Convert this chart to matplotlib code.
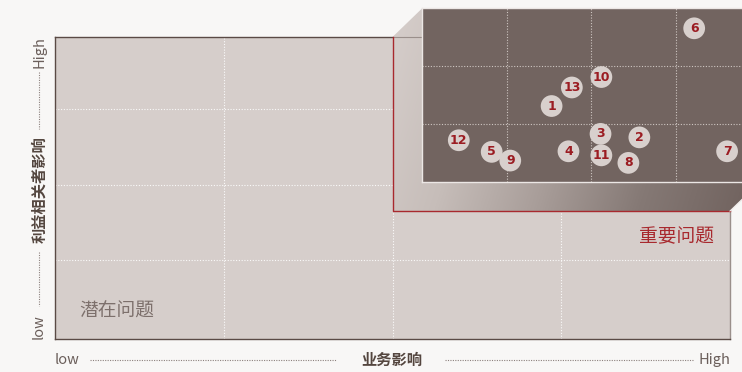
import numpy as np
import matplotlib
matplotlib.use("Agg")
import matplotlib.pyplot as plt
from matplotlib.patches import Polygon
from matplotlib.colors import LinearSegmentedColormap

plt.rcParams['font.family'] = ['Noto Sans CJK SC', 'DejaVu Sans']

# ---- data -------------------------------------------------------------
issue_ids = ["1", "2", "3", "4", "5", "6", "7", "8", "9", "10", "11", "12", "13"]
business_impact = [1.53, 2.57, 2.11, 1.73, 0.82, 3.22, 3.61, 2.44, 1.04, 2.12, 2.12, 0.43, 1.77]
stakeholder_impact = [1.31, 0.77, 0.83, 0.53, 0.52, 2.65, 0.53, 0.33, 0.37, 1.81, 0.46, 0.72, 1.63]

x_axis_title = "业务影响"
y_axis_title = "利益相关者影响"
low_label, high_label = "low", "High"
quadrant_low = "潜在问题"
quadrant_high = "重要问题"

# ---- style ------------------------------------------------------------
FIG_BG = "#f8f7f6"
PLOT_BG = "#d6cecb"
DARK_BG = "#726460"
RED = "#a8292e"
NUM_RED = "#9b1c22"
AXIS_TXT = "#6b5f5b"

W, H = 742, 372
fig = plt.figure(figsize=(W / 100, H / 100), dpi=100, facecolor=FIG_BG)


def px_rect(x0, y0, x1, y1):
    """figure-fraction rect from pixel box (origin top-left)"""
    return [x0 / W, (H - y1) / H, (x1 - x0) / W, (y1 - y0) / H]


# ---- main matrix ------------------------------------------------------
ax = fig.add_axes(px_rect(55, 37, 730, 339))
ax.set_facecolor(PLOT_BG)
ax.set_xlim(0, 4)
ax.set_ylim(0, 4)
ax.set_xticks([1, 2, 3])
ax.set_yticks([1.04, 2.04, 3.04])
ax.tick_params(length=0, labelbottom=False, labelleft=False)
ax.grid(True, color="white", linestyle=(0, (1, 1.5)), linewidth=0.8, alpha=0.9)
for s in ax.spines.values():
    s.set_color("#5a4a45")
    s.set_linewidth(1.0)
ax.spines["right"].set_color("#9a8f8b")

ax.text(24 / 675, 0.093, quadrant_low, transform=ax.transAxes, fontsize=13.5,
        color="#7d706c", ha="left", va="center")
ax.text(659 / 675, 0.338, quadrant_high, transform=ax.transAxes, fontsize=13.5,
        color=RED, ha="right", va="center")

# highlighted region of the matrix (data coords)
hx0, hx1, hy0, hy1 = 2.0, 4.0, 1.695, 4.0

# ---- overlay in pixel space -------------------------------------------
ov = fig.add_axes([0, 0, 1, 1], zorder=1)
ov.set_xlim(0, W)
ov.set_ylim(H, 0)
ov.axis("off")
ov.patch.set_alpha(0)

fig.canvas.draw()
to_px = lambda x, y: (lambda p: (p[0], H - p[1]))(ax.transData.transform((x, y)))
rx0, ry1 = to_px(hx0, hy0)   # bottom-left (pixels)
rx1, ry0 = to_px(hx1, hy1)   # top-right
dx, dy = 30, -29             # extrusion offset of the zoomed panel
ix0, iy0, ix1, iy1 = rx0 + dx, ry0 + dy, rx1 + dx, ry1 + dy

# extruded prism joining highlighted region and zoom panel
prism = Polygon([(rx0, ry1), (rx0, ry0), (ix0, iy0), (ix1, iy0), (ix1, iy1), (rx1, ry1)],
                closed=True, facecolor="none", edgecolor="none")
ov.add_patch(prism)
cmap = LinearSegmentedColormap.from_list("g", ["#d6cecb", "#c6bdb9", "#a89d99", "#857975", DARK_BG])
gx = np.linspace(0, 1, 400)
gy = np.linspace(0, 1, 200)
GX, GY = np.meshgrid(gx, gy)
grad = np.clip(GX * 0.9 + GY * 0.15, 0, 1)
img = ov.imshow(grad, cmap=cmap, extent=(rx0, ix1, ry1, iy0), origin="upper",
                aspect="auto", interpolation="bilinear", zorder=1)
img.set_clip_path(prism)
ov.plot([rx0, ix0], [ry0, ry0], color="#9a8f8b", lw=0.8, zorder=2)
ov.plot([rx0, rx0, rx1], [ry0, ry1, ry1], color=RED, lw=1.0, zorder=3)
ov.plot([rx1, ix1], [ry1, iy1], color="#f0ecea", lw=0.8, zorder=3)
ov.set_xlim(0, W)
ov.set_ylim(H, 0)

# ---- zoomed panel -----------------------------------------------------
ins = fig.add_axes(px_rect(ix0, iy0, ix1, iy1), zorder=2)
ins.set_facecolor(DARK_BG)
ins.set_xlim(0, 4)
ins.set_ylim(0, 3)
ins.set_xticks([1, 2, 3])
ins.set_yticks([1, 2])
ins.tick_params(length=0, labelbottom=False, labelleft=False)
ins.grid(True, color="#d8d0cc", linestyle=(0, (1, 1.5)), linewidth=0.8, alpha=0.9)
for s in ins.spines.values():
    s.set_color("#ece7e5")
    s.set_linewidth(1.0)

ins.scatter(business_impact, stakeholder_impact, s=245, color="#d8d0cd",
            edgecolors="none", zorder=3, clip_on=False)
for lbl, xv, yv in zip(issue_ids, business_impact, stakeholder_impact):
    ins.text(xv, yv, lbl, ha="center", va="center", fontsize=9, fontweight="bold",
             color=NUM_RED, family="DejaVu Sans", zorder=4)

# ---- axis titles ------------------------------------------------------
dots = dict(color="#8c817d", lw=0.8, linestyle=(0, (1, 1.2)))
fig.text(55 / W, 1 - 360 / H, low_label, fontsize=10.5, color=AXIS_TXT, ha="left", va="center")
fig.text(730 / W, 1 - 360 / H, high_label, fontsize=10.5, color=AXIS_TXT, ha="right", va="center")
fig.text(392 / W, 1 - 360 / H, x_axis_title, fontsize=11, color="#54463f",
         fontweight="bold", ha="center", va="center")
ov.plot([90, 336], [360, 360], **dots)
ov.plot([445, 693], [360, 360], **dots)

fig.text(39 / W, 1 - 339 / H, low_label, fontsize=10.5, color=AXIS_TXT, rotation=90,
         ha="center", va="bottom")
fig.text(39 / W, 1 - 36 / H, high_label, fontsize=10.5, color=AXIS_TXT, rotation=90,
         ha="center", va="top")
fig.text(39 / W, 1 - 190 / H, y_axis_title, fontsize=11, color="#54463f",
         fontweight="bold", rotation=90, ha="center", va="center")
ov.plot([39, 39], [72, 129], **dots)
ov.plot([39, 39], [252, 306], **dots)

fig.savefig("out.png", dpi=100, facecolor=FIG_BG)
